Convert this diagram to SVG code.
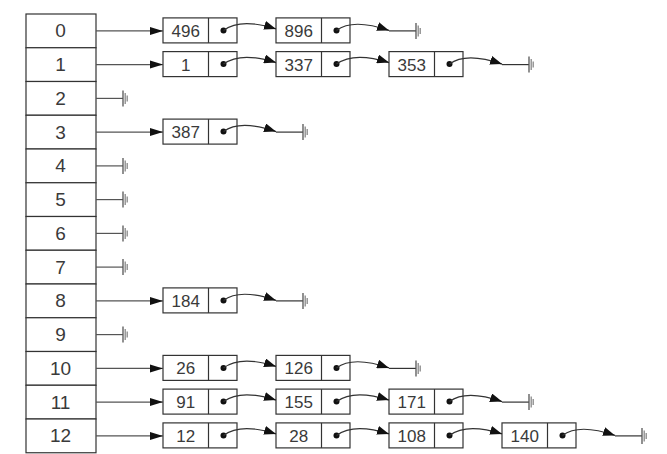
<svg xmlns="http://www.w3.org/2000/svg" width="667" height="454" viewBox="0 0 667 454">
<style>
.cell rect{fill:#fff;stroke:#333;stroke-width:1.2}
.cell text{font-family:"Liberation Sans",Arial,sans-serif;font-size:19px;fill:#3a3a3a;text-anchor:middle}
.node rect{fill:#fff;stroke:#333;stroke-width:1.2}
.node line{stroke:#333;stroke-width:1.2}
.node text{font-family:"Liberation Sans",Arial,sans-serif;font-size:17px;fill:#3a3a3a;text-anchor:middle}
.node circle{fill:#111}
#connectors path{fill:none;stroke:#333;stroke-width:1.2}
#connectors path.t{stroke:#555}
#connectors path.p{marker-end:url(#ah)}
#connectors path.a{marker-end:url(#ah2)}
.g{fill:none;stroke:#888;stroke-width:1.3}
.g path.d{stroke:#555}
</style>
<defs>
<marker id="ah" markerUnits="userSpaceOnUse" markerWidth="12" markerHeight="9" refX="12" refY="4.5" orient="auto"><path d="M0,0 L12,4.5 L0,9 z" fill="#111"/></marker>
<marker id="ah2" markerUnits="userSpaceOnUse" markerWidth="13" markerHeight="9" refX="13" refY="4.5" orient="auto"><path d="M0,0.5 L13,4.5 L0,8.5 z" fill="#111"/></marker>
<g id="gnd" class="g"><path class="d" d="M0,-8 V8"/><path d="M2.2,-5.5 V5.5 M4.2,-3 V3"/></g>
</defs>
<rect width="667" height="454" fill="#fff"/>
<g id="table">
<g id="bucket-0" class="cell"><rect x="26" y="14" width="70" height="33.75"/><text x="60.5" y="37.4">0</text></g>
<g id="bucket-1" class="cell"><rect x="26" y="47.75" width="70" height="33.75"/><text x="60.5" y="71.1">1</text></g>
<g id="bucket-2" class="cell"><rect x="26" y="81.5" width="70" height="33.75"/><text x="60.5" y="104.9">2</text></g>
<g id="bucket-3" class="cell"><rect x="26" y="115.25" width="70" height="33.75"/><text x="60.5" y="138.6">3</text></g>
<g id="bucket-4" class="cell"><rect x="26" y="149" width="70" height="33.75"/><text x="60.5" y="172.4">4</text></g>
<g id="bucket-5" class="cell"><rect x="26" y="182.75" width="70" height="33.75"/><text x="60.5" y="206.1">5</text></g>
<g id="bucket-6" class="cell"><rect x="26" y="216.5" width="70" height="33.75"/><text x="60.5" y="239.9">6</text></g>
<g id="bucket-7" class="cell"><rect x="26" y="250.25" width="70" height="33.75"/><text x="60.5" y="273.6">7</text></g>
<g id="bucket-8" class="cell"><rect x="26" y="284" width="70" height="33.75"/><text x="60.5" y="307.4">8</text></g>
<g id="bucket-9" class="cell"><rect x="26" y="317.75" width="70" height="33.75"/><text x="60.5" y="341.1">9</text></g>
<g id="bucket-10" class="cell"><rect x="26" y="351.5" width="70" height="33.75"/><text x="60.5" y="374.9">10</text></g>
<g id="bucket-11" class="cell"><rect x="26" y="385.25" width="70" height="33.75"/><text x="60.5" y="408.6">11</text></g>
<g id="bucket-12" class="cell"><rect x="26" y="419" width="70" height="33.75"/><text x="60.5" y="442.4">12</text></g>
</g>
<g id="lists">
<g id="node-0-496" class="node"><rect x="163" y="17.9" width="74" height="25"/><line x1="208.5" y1="17.9" x2="208.5" y2="42.9"/><text x="185.75" y="36.9">496</text><circle cx="223.5" cy="30.4" r="3"/></g>
<g id="node-0-896" class="node"><rect x="276" y="17.9" width="74" height="25"/><line x1="321.5" y1="17.9" x2="321.5" y2="42.9"/><text x="298.75" y="36.9">896</text><circle cx="336.5" cy="30.4" r="3"/></g>
<g id="node-1-1" class="node"><rect x="163" y="51.6" width="74" height="25"/><line x1="208.5" y1="51.6" x2="208.5" y2="76.6"/><text x="185.75" y="70.6">1</text><circle cx="223.5" cy="64.1" r="3"/></g>
<g id="node-1-337" class="node"><rect x="276" y="51.6" width="74" height="25"/><line x1="321.5" y1="51.6" x2="321.5" y2="76.6"/><text x="298.75" y="70.6">337</text><circle cx="336.5" cy="64.1" r="3"/></g>
<g id="node-1-353" class="node"><rect x="389" y="51.6" width="74" height="25"/><line x1="434.5" y1="51.6" x2="434.5" y2="76.6"/><text x="411.75" y="70.6">353</text><circle cx="449.5" cy="64.1" r="3"/></g>
<g id="node-3-387" class="node"><rect x="163" y="119.1" width="74" height="25"/><line x1="208.5" y1="119.1" x2="208.5" y2="144.1"/><text x="185.75" y="138.1">387</text><circle cx="223.5" cy="131.6" r="3"/></g>
<g id="node-8-184" class="node"><rect x="163" y="287.9" width="74" height="25"/><line x1="208.5" y1="287.9" x2="208.5" y2="312.9"/><text x="185.75" y="306.9">184</text><circle cx="223.5" cy="300.4" r="3"/></g>
<g id="node-10-26" class="node"><rect x="163" y="355.4" width="74" height="25"/><line x1="208.5" y1="355.4" x2="208.5" y2="380.4"/><text x="185.75" y="374.4">26</text><circle cx="223.5" cy="367.9" r="3"/></g>
<g id="node-10-126" class="node"><rect x="276" y="355.4" width="74" height="25"/><line x1="321.5" y1="355.4" x2="321.5" y2="380.4"/><text x="298.75" y="374.4">126</text><circle cx="336.5" cy="367.9" r="3"/></g>
<g id="node-11-91" class="node"><rect x="163" y="389.1" width="74" height="25"/><line x1="208.5" y1="389.1" x2="208.5" y2="414.1"/><text x="185.75" y="408.1">91</text><circle cx="223.5" cy="401.6" r="3"/></g>
<g id="node-11-155" class="node"><rect x="276" y="389.1" width="74" height="25"/><line x1="321.5" y1="389.1" x2="321.5" y2="414.1"/><text x="298.75" y="408.1">155</text><circle cx="336.5" cy="401.6" r="3"/></g>
<g id="node-11-171" class="node"><rect x="389" y="389.1" width="74" height="25"/><line x1="434.5" y1="389.1" x2="434.5" y2="414.1"/><text x="411.75" y="408.1">171</text><circle cx="449.5" cy="401.6" r="3"/></g>
<g id="node-12-12" class="node"><rect x="163" y="422.9" width="74" height="25"/><line x1="208.5" y1="422.9" x2="208.5" y2="447.9"/><text x="185.75" y="441.9">12</text><circle cx="223.5" cy="435.4" r="3"/></g>
<g id="node-12-28" class="node"><rect x="276" y="422.9" width="74" height="25"/><line x1="321.5" y1="422.9" x2="321.5" y2="447.9"/><text x="298.75" y="441.9">28</text><circle cx="336.5" cy="435.4" r="3"/></g>
<g id="node-12-108" class="node"><rect x="389" y="422.9" width="74" height="25"/><line x1="434.5" y1="422.9" x2="434.5" y2="447.9"/><text x="411.75" y="441.9">108</text><circle cx="449.5" cy="435.4" r="3"/></g>
<g id="node-12-140" class="node"><rect x="502" y="422.9" width="74" height="25"/><line x1="547.5" y1="422.9" x2="547.5" y2="447.9"/><text x="524.75" y="441.9">140</text><circle cx="562.5" cy="435.4" r="3"/></g>
</g>
<g id="connectors">
<path class="t a" d="M96,30.9 H163"/>
<path class="t a" d="M96,64.6 H163"/>
<path class="t a" d="M96,132.1 H163"/>
<path class="t a" d="M96,300.9 H163"/>
<path class="t a" d="M96,368.4 H163"/>
<path class="t a" d="M96,402.1 H163"/>
<path class="t a" d="M96,435.9 H163"/>
<path class="t" d="M96,98.4 H123"/>
<path class="t" d="M96,165.9 H123"/>
<path class="t" d="M96,199.6 H123"/>
<path class="t" d="M96,233.4 H123"/>
<path class="t" d="M96,267.1 H123"/>
<path class="t" d="M96,334.6 H123"/>
<path class="p" d="M223.5,30.4 C233.5,22.9 251,20.9 276,28.9"/>
<path class="p" d="M336.5,30.4 C346.5,22.9 364,21.9 389,30.4"/>
<path d="M389,30.9 H416"/>
<path class="p" d="M223.5,64.1 C233.5,56.6 251,54.6 276,62.6"/>
<path class="p" d="M336.5,64.1 C346.5,56.6 364,54.6 389,62.6"/>
<path class="p" d="M449.5,64.1 C459.5,56.6 477,55.6 502,64.1"/>
<path d="M502,64.6 H529"/>
<path class="p" d="M223.5,131.6 C233.5,124.1 251,123.1 276,131.6"/>
<path d="M276,132.1 H303"/>
<path class="p" d="M223.5,300.4 C233.5,292.9 251,291.9 276,300.4"/>
<path d="M276,300.9 H303"/>
<path class="p" d="M223.5,367.9 C233.5,360.4 251,358.4 276,366.4"/>
<path class="p" d="M336.5,367.9 C346.5,360.4 364,359.4 389,367.9"/>
<path d="M389,368.4 H416"/>
<path class="p" d="M223.5,401.6 C233.5,394.1 251,392.1 276,400.1"/>
<path class="p" d="M336.5,401.6 C346.5,394.1 364,392.1 389,400.1"/>
<path class="p" d="M449.5,401.6 C459.5,394.1 477,393.1 502,401.6"/>
<path d="M502,402.1 H529"/>
<path class="p" d="M223.5,435.4 C233.5,427.9 251,425.9 276,433.9"/>
<path class="p" d="M336.5,435.4 C346.5,427.9 364,425.9 389,433.9"/>
<path class="p" d="M449.5,435.4 C459.5,427.9 477,425.9 502,433.9"/>
<path class="p" d="M562.5,435.4 C572.5,427.9 590,426.9 615,435.4"/>
<path d="M615,435.9 H642"/>
<use href="#gnd" x="123" y="98.4"/>
<use href="#gnd" x="123" y="165.9"/>
<use href="#gnd" x="123" y="199.6"/>
<use href="#gnd" x="123" y="233.4"/>
<use href="#gnd" x="123" y="267.1"/>
<use href="#gnd" x="123" y="334.6"/>
<use href="#gnd" x="416" y="30.9"/>
<use href="#gnd" x="529" y="64.6"/>
<use href="#gnd" x="303" y="132.1"/>
<use href="#gnd" x="303" y="300.9"/>
<use href="#gnd" x="416" y="368.4"/>
<use href="#gnd" x="529" y="402.1"/>
<use href="#gnd" x="642" y="435.9"/>
</g>
</svg>
